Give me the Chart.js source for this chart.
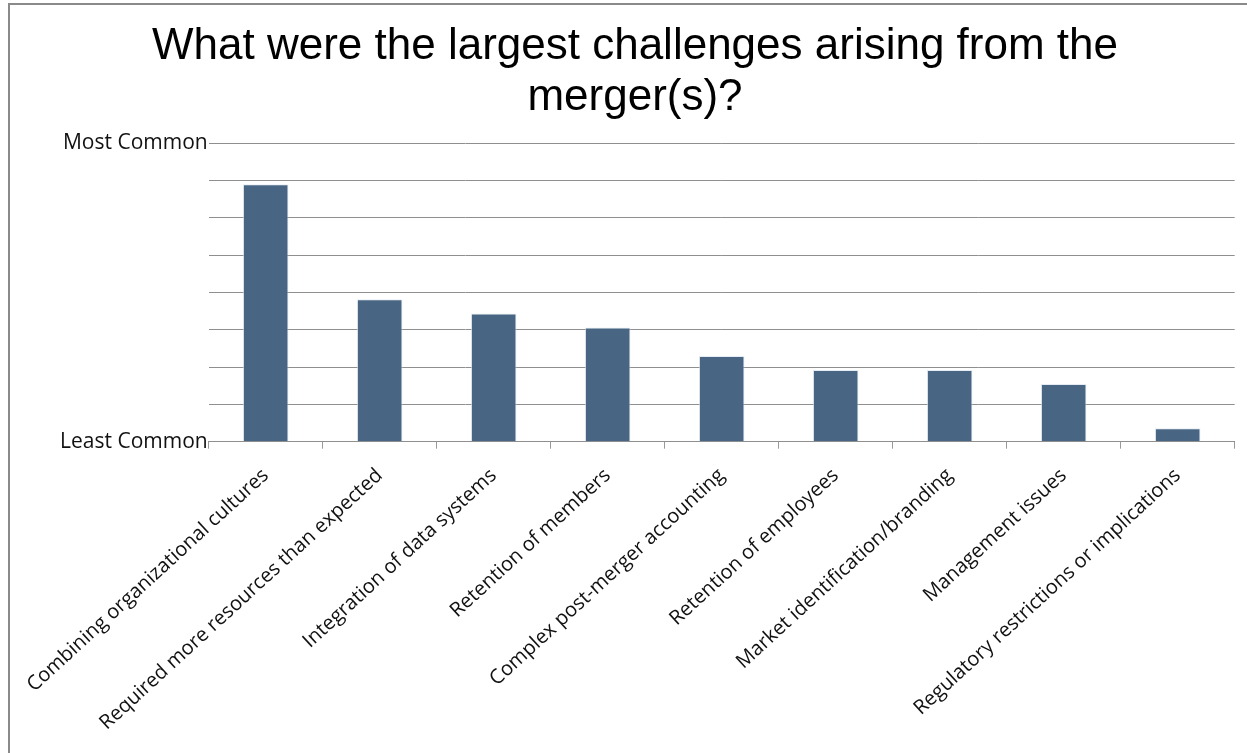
<!DOCTYPE html>
<html>
<head>
<meta charset="utf-8">
<script src="https://cdn.jsdelivr.net/npm/chart.js@4/dist/chart.umd.min.js"></script>
<style>
  body { margin: 0; background: #fff; overflow: hidden; }
  #frame {
    position: absolute; left: 8px; top: 3px;
    width: 1239px; height: 748px;
    border-left: 2px solid #8a8a8a;
    border-top: 2px solid #8a8a8a;
    border-bottom: 1px solid #dcdcdc;
  }
  #chart { display: block; }
</style>
</head>
<body>
<div id="frame"><canvas id="chart" width="1237" height="746"></canvas></div>
<script>
const categories = [
  'Combining organizational cultures',
  'Required more resources than expected',
  'Integration of data systems',
  'Retention of members',
  'Complex post-merger accounting',
  'Retention of employees',
  'Market identification/branding',
  'Management issues',
  'Regulatory restrictions or implications'
];
// relative score, 0 = least common, 8 = most common
const scores = [6.9, 3.82, 3.44, 3.06, 2.3, 1.92, 1.92, 1.55, 0.36];
const yTickLabels = ['Least Common', '', '', '', '', '', '', '', 'Most Common'];
const titleLines = ['What were the largest challenges arising from the', 'merger(s)?'];

const ctx = document.getElementById('chart').getContext('2d');
new Chart(ctx, {
  type: 'bar',
  data: {
    labels: categories,
    datasets: [{
      data: scores,
      backgroundColor: '#486683',
      borderColor: 'rgba(220,228,238,0.7)',
      borderWidth: 1,
      categoryPercentage: 1,
      barPercentage: 0.4
    }]
  },
  options: {
    responsive: false,
    animation: false,
    devicePixelRatio: 1,
    layout: { padding: { left: 25.3, right: 12.3, top: 0, bottom: 0 } },
    plugins: {
      legend: { display: false },
      tooltip: { enabled: false },
      title: {
        display: true,
        text: titleLines,
        color: '#000',
        font: { family: '"Liberation Sans", Arial, sans-serif', size: 44, weight: 'normal', lineHeight: 1.166 },
        padding: { top: 16, bottom: 19.7 }
      }
    },
    scales: {
      x: {
        grid: { drawOnChartArea: false, drawTicks: true, tickLength: 7, color: '#999' },
        border: { display: true, color: '#8f8f8f' },
        ticks: {
          autoSkip: false,
          minRotation: 42.5,
          maxRotation: 42.5,
          padding: 15,
          color: '#111',
          font: { family: '"Open Sans", sans-serif', size: 20 }
        },
        afterFit: (scale) => {
          scale.height = 309.3;
          // long rotated labels would otherwise push the plot area right
          scale.paddingLeft = 0;
          scale.paddingRight = 0;
        }
      },
      y: {
        min: 0,
        max: 8,
        grid: { color: '#8f8f8f', drawTicks: false },
        border: { display: false },
        ticks: {
          stepSize: 1,
          padding: 1,
          color: '#111',
          font: { family: '"Open Sans", sans-serif', size: 21 },
          callback: (value) => yTickLabels[value]
        },
        afterFit: (scale) => { scale.width = 173.4; }
      }
    }
  }
});
</script>
</body>
</html>
